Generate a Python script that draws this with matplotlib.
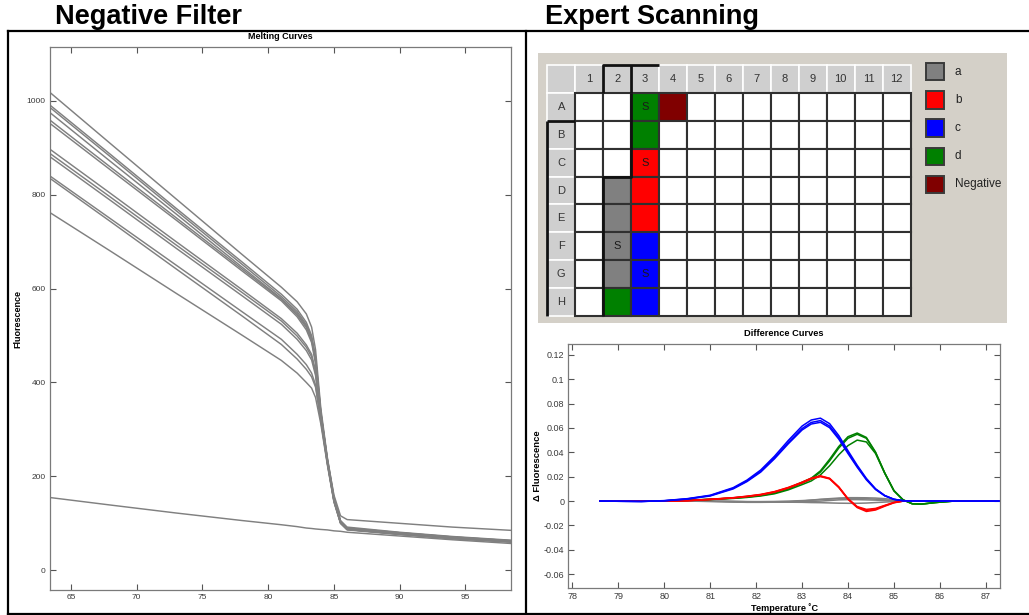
import matplotlib
matplotlib.use("Agg")
import matplotlib.pyplot as plt
from matplotlib.patches import Rectangle
from matplotlib.lines import Line2D
from matplotlib.ticker import FuncFormatter

W, H = 1029, 615
plt.rcParams["font.family"] = ["Liberation Sans", "DejaVu Sans"]

# ---- melting curves (left panel) ----
MELT_TEMPS = [63.4, 68, 73, 78, 81, 82.2, 82.9, 83.3, 83.6, 84.0, 84.5, 85.0, 85.5, 86.0, 90, 94, 98.5]
MELT_CURVES = [
    [1018, 909, 791, 673, 603, 572, 546, 518, 470, 345, 240, 156, 106, 92, 81, 72, 64],
    [991, 886, 771, 657, 588, 556, 528, 500, 455, 338, 236, 153, 104, 90, 80, 71, 63],
    [986, 881, 766, 652, 583, 551, 523, 495, 450, 336, 235, 152, 103, 89, 79, 70, 62],
    [975, 871, 759, 646, 579, 547, 520, 492, 447, 335, 234, 152, 104, 90, 80, 71, 63],
    [959, 859, 751, 642, 577, 544, 517, 490, 445, 334, 237, 160, 116, 108, 100, 92, 85],
    [952, 853, 746, 638, 574, 540, 512, 485, 440, 332, 233, 151, 103, 89, 79, 70, 62],
    [897, 803, 700, 598, 536, 505, 480, 460, 425, 328, 231, 150, 102, 88, 78, 69, 61],
    [888, 795, 693, 592, 531, 499, 475, 455, 420, 326, 230, 149, 102, 88, 78, 69, 61],
    [881, 788, 686, 585, 524, 492, 468, 448, 415, 324, 229, 148, 101, 87, 77, 68, 60],
    [840, 749, 650, 551, 492, 460, 438, 420, 395, 320, 228, 147, 101, 87, 77, 68, 61],
    [835, 743, 642, 542, 481, 450, 428, 412, 390, 318, 227, 147, 100, 87, 77, 69, 62],
    [762, 680, 590, 501, 447, 420, 400, 388, 368, 312, 224, 145, 100, 86, 76, 67, 60],
]
NEGATIVE_CURVE = [155, 139, 122, 106, 97, 93, 90, 89, 88, 87, 86, 84, 83, 81, 73, 65, 57]
MELT_XTICKS = [65, 70, 75, 80, 85, 90, 95]
MELT_YTICKS = [0, 200, 400, 600, 800, 1000]

# ---- difference curves (right bottom) ----
DIFF_TEMPS = [78.6, 79.5, 80.0, 80.5, 81.0, 81.5, 81.8, 82.1, 82.4, 82.7, 83.0, 83.2, 83.4,
              83.6, 83.8, 84.0, 84.2, 84.4, 84.6, 84.8, 85.0, 85.2, 85.4, 85.6, 85.9, 86.3, 87.3]
DIFF_GRAY = [
    [0, 0, 0, 0, -0.0003, -0.0008, -0.001, -0.001, -0.0009, -0.0006, 0, 0.0008, 0.0015, 0.002,
     0.0025, 0.0028, 0.0028, 0.0027, 0.0025, 0.002, 0.0012, 0.0004, 0, 0, 0, 0, 0],
    [0, 0, 0, 0, -0.0002, -0.0005, -0.0007, -0.0008, -0.0008, -0.0006, -0.0004, -0.0002, 0, 0.0005,
     0.001, 0.0012, 0.0012, 0.001, 0.0008, 0.0005, 0.0002, 0, 0, 0, 0, 0, 0],
    [0, 0, 0, 0, 0, -0.0003, -0.0005, -0.0006, -0.0007, -0.0009, -0.001, -0.0012, -0.0013, -0.0015,
     -0.0017, -0.0018, -0.0018, -0.0016, -0.0012, -0.0008, -0.0004, 0, 0, 0, 0, 0, 0],
    [0, 0, 0, 0, 0, -0.0002, -0.0004, -0.0004, -0.0003, 0, 0.0004, 0.0008, 0.0012, 0.0016,
     0.002, 0.0022, 0.0022, 0.002, 0.0016, 0.001, 0.0005, 0.0001, 0, 0, 0, 0, 0],
]
DIFF_GREEN = [
    [0, 0, 0.0002, 0.0008, 0.0015, 0.0025, 0.0035, 0.0048, 0.0068, 0.0105, 0.0155, 0.0188, 0.0248,
     0.0343, 0.0448, 0.0528, 0.0558, 0.0522, 0.0402, 0.0232, 0.0086, 0.001, -0.0022, -0.0024, -0.0012, 0, 0],
    [0, 0, 0.0002, 0.0007, 0.0014, 0.0024, 0.0033, 0.0046, 0.0065, 0.0100, 0.0148, 0.0180, 0.0238,
     0.0330, 0.0435, 0.0515, 0.0548, 0.0515, 0.0398, 0.0230, 0.0085, 0.001, -0.0022, -0.0025, -0.0012, 0, 0],
    [0, 0, 0.0002, 0.0007, 0.0013, 0.0022, 0.003, 0.0042, 0.006, 0.0092, 0.0135, 0.0165, 0.0215,
     0.029, 0.038, 0.0455, 0.050, 0.0485, 0.039, 0.0228, 0.0085, 0.001, -0.0022, -0.0025, -0.0012, 0, 0],
]
DIFF_RED = [
    [0, 0, 0, 0.0004, 0.0015, 0.0028, 0.004, 0.0055, 0.0078, 0.0112, 0.0155, 0.0188, 0.0207,
     0.0187, 0.0117, 0.002, -0.0045, -0.0068, -0.006, -0.0035, -0.0011, 0, 0, 0, 0, 0, 0],
    [0, 0, 0, 0.0004, 0.0014, 0.0027, 0.0039, 0.0053, 0.0076, 0.011, 0.0152, 0.0185, 0.0204,
     0.0185, 0.0114, 0.0018, -0.0049, -0.0076, -0.0066, -0.0038, -0.0012, 0, 0, 0, 0, 0, 0],
    [0, 0, 0, 0.0003, 0.0013, 0.0026, 0.0037, 0.0051, 0.0073, 0.0107, 0.0149, 0.0182, 0.0201,
     0.0182, 0.0111, 0.0015, -0.0053, -0.0085, -0.0073, -0.0042, -0.0014, 0, 0, 0, 0, 0, 0],
]
DIFF_BLUE = [
    [0, -0.0003, 0.0004, 0.002, 0.0048, 0.011, 0.0172, 0.0255, 0.0368, 0.0497, 0.0615, 0.0665, 0.068,
     0.0635, 0.0537, 0.0413, 0.0294, 0.0186, 0.0101, 0.0046, 0.0015, 0.0003, 0, 0, 0, 0, 0],
    [0, -0.0003, 0.0003, 0.0018, 0.0045, 0.0105, 0.0165, 0.0245, 0.0355, 0.048, 0.0595, 0.0645, 0.066,
     0.0615, 0.052, 0.040, 0.0285, 0.018, 0.0098, 0.0045, 0.0015, 0.0003, 0, 0, 0, 0, 0],
    [0, -0.0003, 0.0002, 0.0016, 0.0042, 0.0100, 0.0160, 0.0238, 0.0347, 0.0470, 0.0583, 0.0632, 0.0646,
     0.0602, 0.0508, 0.0390, 0.0278, 0.0175, 0.0095, 0.0043, 0.0014, 0.0003, 0, 0, 0, 0, 0],
]
DIFF_XTICKS = [78, 79, 80, 81, 82, 83, 84, 85, 86, 87]
DIFF_YTICKS = [-0.06, -0.04, -0.02, 0, 0.02, 0.04, 0.06, 0.08, 0.1, 0.12]

# ---- plate layout (right top) ----
PLATE_ROWS = ["A", "B", "C", "D", "E", "F", "G", "H"]
PLATE_COLS = ["1", "2", "3", "4", "5", "6", "7", "8", "9", "10", "11", "12"]
WELL_GROUPS = {
    "A3": "d", "B3": "d", "C3": "b", "D3": "b", "E3": "b",
    "F3": "c", "G3": "c", "H3": "c", "A4": "Negative",
    "D2": "a", "E2": "a", "F2": "a", "G2": "a", "H2": "d",
}
STANDARD_WELLS = ["A3", "C3", "F2", "G3"]
LEGEND_LABELS = ["a", "b", "c", "d", "Negative"]
GROUP_COLORS = {"a": "#808080", "b": "#ff0000", "c": "#0000ff", "d": "#008000", "Negative": "#800000"}


def px_axes(fig, left, top, right, bottom):
    return fig.add_axes([left / W, 1 - bottom / H, (right - left) / W, (bottom - top) / H])


def style_axes(ax, size):
    for sp in ax.spines.values():
        sp.set_color("#7a7a7a")
        sp.set_linewidth(0.9)
    ax.tick_params(direction="in", top=True, right=True, length=4, width=0.8,
                   color="#555555", labelsize=size, labelcolor="#3a3a3a", pad=3)


fig = plt.figure(figsize=(W / 100, H / 100), dpi=100)
fig.patch.set_facecolor("white")

# frame lines
frame = dict(color="black", lw=1.6, transform=fig.transFigure)
fig.add_artist(Line2D([8 / W, 1], [1 - 30.5 / H] * 2, **frame))
fig.add_artist(Line2D([8 / W, 1], [1 - 614 / H] * 2, **frame))
fig.add_artist(Line2D([8 / W] * 2, [1 - 30.5 / H, 1 - 614 / H], **frame))
fig.add_artist(Line2D([526 / W] * 2, [1 - 30.5 / H, 1 - 614 / H], **frame))

fig.text(55 / W, 1 - 16.5 / H, "Negative Filter", fontsize=19.5, fontweight="bold", ha="left", va="center")
fig.text(545 / W, 1 - 16.5 / H, "Expert Scanning", fontsize=19.5, fontweight="bold", ha="left", va="center")

# ---- melting curves ----
ax1 = px_axes(fig, 50, 47.3, 511, 590)
for curve in MELT_CURVES:
    ax1.plot(MELT_TEMPS, curve, color="#808080", lw=1.05)
ax1.plot(MELT_TEMPS, NEGATIVE_CURVE, color="#808080", lw=1.05)
ax1.set_xlim(63.41, 98.46)
ax1.set_ylim(-42, 1114)
ax1.set_xticks(MELT_XTICKS)
ax1.set_yticks(MELT_YTICKS)
style_axes(ax1, 6)
ax1.set_ylabel("Fluorescence", fontsize=6.5, fontweight="bold")
ax1.yaxis.set_label_coords((22 - 50) / 461, 0.5)
ax1.text(0.5, (590 - 36.7) / 542.7, "Melting Curves", transform=ax1.transAxes,
         ha="center", va="center", fontsize=6.5, fontweight="bold")

# ---- difference curves ----
ax2 = px_axes(fig, 568.3, 344, 1000, 587.7)
for curve in DIFF_GRAY:
    ax2.plot(DIFF_TEMPS, curve, color="#808080", lw=1.1)
for curve in DIFF_GREEN:
    ax2.plot(DIFF_TEMPS, curve, color="#008000", lw=1.1)
for curve in DIFF_RED:
    ax2.plot(DIFF_TEMPS, curve, color="#ff0000", lw=1.1)
for curve in DIFF_BLUE:
    ax2.plot(DIFF_TEMPS, curve, color="#0000ff", lw=1.1)
ax2.set_xlim(77.91, 87.31)
ax2.set_ylim(-0.071, 0.1288)
ax2.set_xticks(DIFF_XTICKS)
ax2.set_yticks(DIFF_YTICKS)
ax2.yaxis.set_major_formatter(FuncFormatter(lambda v, p: f"{v:g}"))
style_axes(ax2, 6.5)
ax2.set_xlabel("Temperature \u02daC", fontsize=6.6, fontweight="bold")
ax2.xaxis.set_label_coords(0.5, (587.7 - 603) / 243.7)
ax2.set_ylabel("\u0394 Fluorescence", fontsize=6.8, fontweight="bold")
ax2.yaxis.set_label_coords((542 - 568.3) / 431.7, 0.5)
ax2.text(0.5, (587.7 - 333.3) / 243.7, "Difference Curves", transform=ax2.transAxes,
         ha="center", va="center", fontsize=6.7, fontweight="bold")

# ---- plate ----
ax3 = px_axes(fig, 538.3, 53.3, 1006.7, 322.7)
ax3.set_facecolor("#d4d0c8")
ax3.set_xlim(-0.32, 16.44)
ax3.set_ylim(9.24, -0.42)
ax3.set_xticks([])
ax3.set_yticks([])
for sp in ax3.spines.values():
    sp.set_visible(False)

header_fc = "#cfcfcf"
ax3.add_patch(Rectangle((0, 0), 1, 1, facecolor=header_fc, edgecolor="white", lw=1.2))
for j, lab in enumerate(PLATE_COLS):
    ax3.add_patch(Rectangle((j + 1, 0), 1, 1, facecolor=header_fc, edgecolor="white", lw=1.2))
    ax3.text(j + 1.5, 0.5, lab, ha="center", va="center", fontsize=8, color="#333333")
for i, lab in enumerate(PLATE_ROWS):
    ax3.add_patch(Rectangle((0, i + 1), 1, 1, facecolor=header_fc, edgecolor="white", lw=1.2))
    ax3.text(0.5, i + 1.5, lab, ha="center", va="center", fontsize=8, color="#333333")

for i, r in enumerate(PLATE_ROWS):
    for j, c in enumerate(PLATE_COLS):
        well = r + c
        fc = GROUP_COLORS.get(WELL_GROUPS.get(well), "white")
        ax3.add_patch(Rectangle((j + 1, i + 1), 1, 1, facecolor=fc, edgecolor="#303030", lw=1.5))
        if well in STANDARD_WELLS:
            ax3.text(j + 1.5, i + 1.5, "S", ha="center", va="center", fontsize=8, color="#1a1a1a")

# pressed header bevels and selection outline
dark = dict(color="#111111", lw=2.0, solid_capstyle="butt")
ax3.plot([2, 2, 4], [1, 0, 0], **dark)
ax3.plot([3, 3], [0, 1], **dark)
ax3.plot([0, 1], [2, 2], **dark)
ax3.plot([0, 0], [2, 9], **dark)
ax3.plot([3, 3, 2, 2], [1, 4, 4, 9], **dark)

for k, lab in enumerate(LEGEND_LABELS):
    yc = 0.24 + 1.01 * k
    ax3.add_patch(Rectangle((13.57, yc - 0.31), 0.62, 0.62, facecolor=GROUP_COLORS[lab],
                            edgecolor="#3a3a3a", lw=1.4))
    ax3.text(14.59, yc, lab, ha="left", va="center", fontsize=8.5, color="#222222")

fig.savefig("out.png", dpi=100)
